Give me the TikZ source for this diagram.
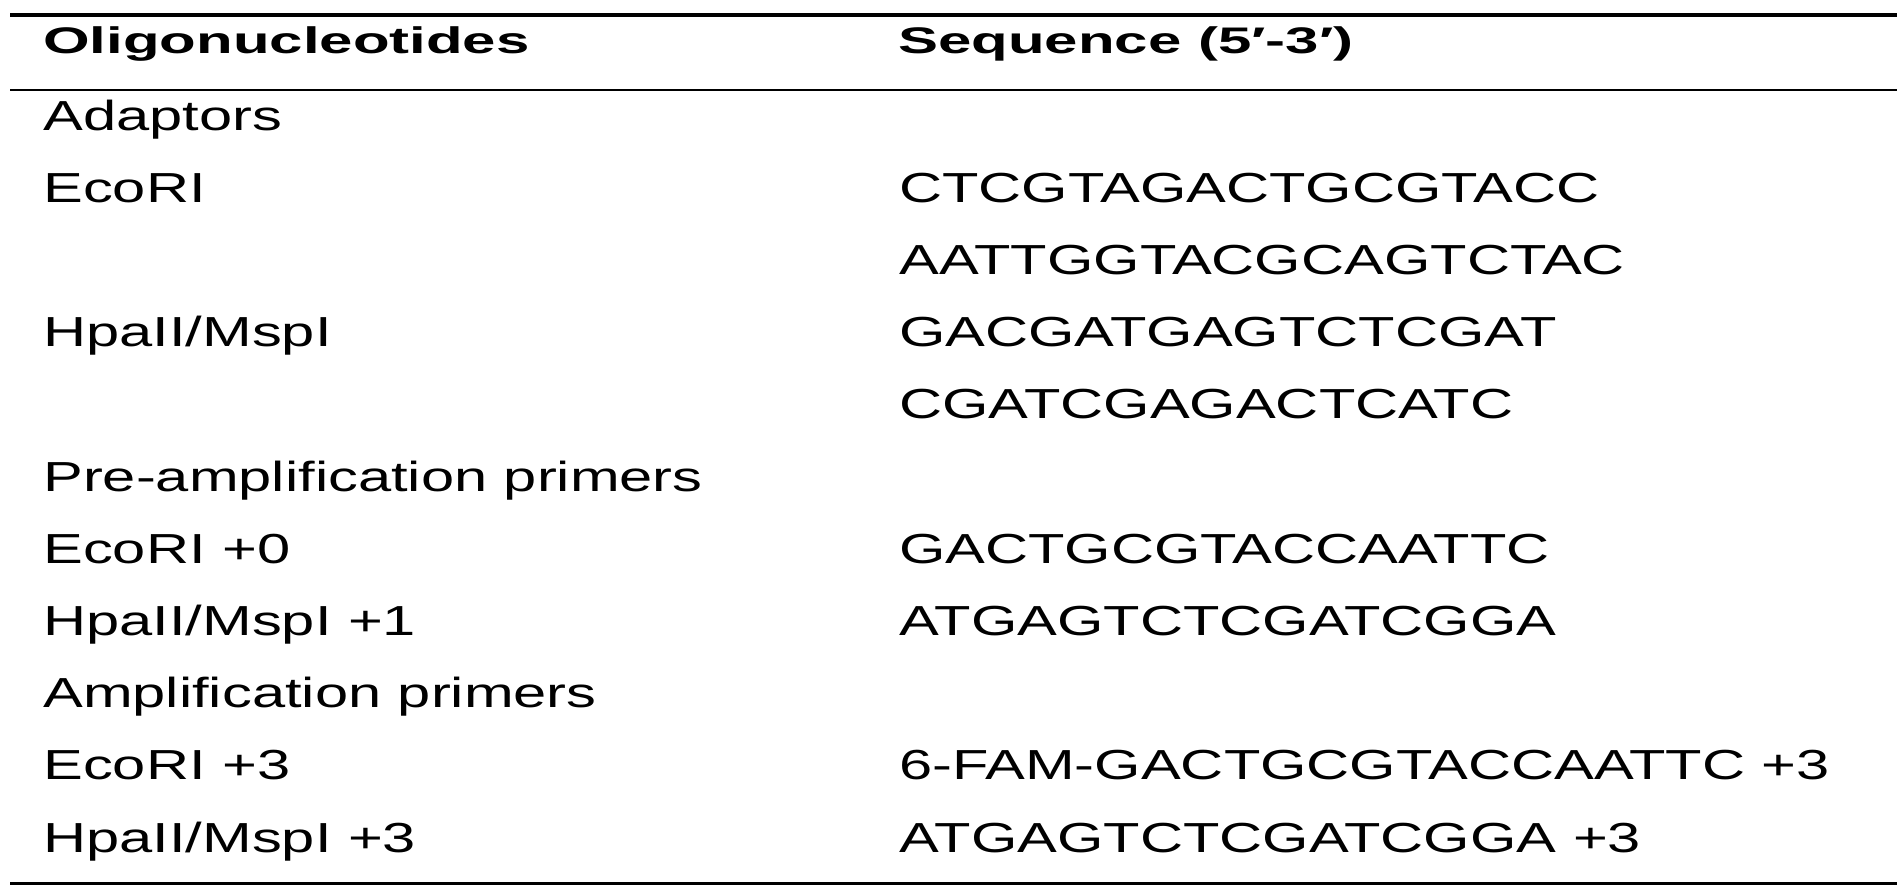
\documentclass[tikz,border=0pt]{standalone}
\usepackage{fontspec}
\setmainfont{Liberation Sans}
\begin{document}
\begin{tikzpicture}
  [x=1pt,y=-1pt,every node/.style={anchor=base west,inner sep=0pt}]
  \tikzstyle{head} = [xscale=1.62,font=\fontsize{37}{44}\selectfont\bfseries]
  \tikzstyle{body} = [xscale=1.42,font=\fontsize{42}{50}\selectfont]
  \useasboundingbox (0,0) rectangle (1901,892);
  \coordinate (tl) at (10,15);    \coordinate (tr) at (1897,15);
  \coordinate (ml) at (10,90);    \coordinate (mr) at (1897,90);
  \coordinate (bl) at (10,883.5); \coordinate (br) at (1897,883.5);
  \draw[line width=4pt] (tl) -- (tr);
  \draw[line width=2.5pt] (ml) -- (mr);
  \draw[line width=3.5pt] (bl) -- (br);
  \node[head] (hname) at (43,53)  {Oligonucleotides};
  \node[head] (hseq)  at (898,53) {Sequence (5′-3′)};
  \foreach \row/\name in {0/Adaptors,1/EcoRI,3/{HpaII/MspI},5/Pre-amplification primers,
     6/EcoRI +0,7/{HpaII/MspI +1},8/Amplification primers,9/EcoRI +3,10/{HpaII/MspI +3}}
   \node[body] (o\row) at (43,130+72.2*\row) {\name};
  \foreach \row/\seq in {1/CTCGTAGACTGCGTACC,2/AATTGGTACGCAGTCTAC,3/GACGATGAGTCTCGAT,
     4/CGATCGAGACTCATC,6/GACTGCGTACCAATTC,7/ATGAGTCTCGATCGGA,
     9/6-FAM-GACTGCGTACCAATTC +3,10/ATGAGTCTCGATCGGA +3}
   \node[body] (s\row) at (899,130+72.2*\row) {\seq};
\end{tikzpicture}
\end{document}
